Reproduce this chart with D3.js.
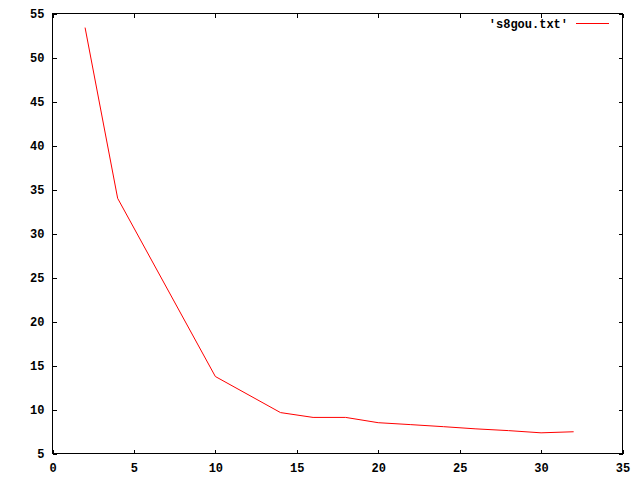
<!DOCTYPE html>
<html><head><meta charset="utf-8">
<script src="https://cdn.jsdelivr.net/npm/d3@7"></script>
<style>
html,body{margin:0;padding:0;background:#fff;}
text{font-family:"Liberation Mono","DejaVu Sans Mono",monospace;font-weight:bold;font-size:12px;fill:#000;}
</style></head>
<body>
<svg id="c" width="640" height="480"></svg>
<script>
const xValues = [2, 4, 10, 14, 16, 18, 20, 22, 24, 26, 28, 30, 32];
const yValues = [53.4, 34.0, 13.75, 9.65, 9.1, 9.1, 8.5, 8.28, 8.05, 7.8, 7.6, 7.35, 7.47];
const xTicks = [0, 5, 10, 15, 20, 25, 30, 35];
const yTicks = [5, 10, 15, 20, 25, 30, 35, 40, 45, 50, 55];
const seriesName = "'s8gou.txt'";

const svg = d3.select("#c");
const L = 52.5, R = 622.5, T = 13.5, B = 453.5;
const x = d3.scaleLinear().domain([0, 35]).range([L, R]);
const y = d3.scaleLinear().domain([5, 55]).range([B, T]);

const g = svg.append("g").attr("shape-rendering", "crispEdges");

function style(sel){
  sel.select(".domain").remove();
  sel.selectAll("line").attr("stroke", "#000");
}
g.append("g").attr("transform", `translate(0,${B})`)
  .call(d3.axisBottom(x).tickValues(xTicks).tickFormat(d3.format("d")).tickSize(-4).tickPadding(9.5))
  .call(style).selectAll("text").attr("font-size", null).attr("font-family", null);
g.append("g").attr("transform", `translate(0,${T})`)
  .call(d3.axisTop(x).tickValues(xTicks).tickFormat("").tickSize(-4)).call(style);
g.append("g").attr("transform", `translate(${L},0)`)
  .call(d3.axisLeft(y).tickValues(yTicks).tickFormat(d3.format("d")).tickSize(-4).tickPadding(8))
  .call(style).selectAll("text").attr("font-size", null).attr("font-family", null);
g.append("g").attr("transform", `translate(${R},0)`)
  .call(d3.axisRight(y).tickValues(yTicks).tickFormat("").tickSize(-4)).call(style);
svg.selectAll("g.tick text").attr("font-size", null).attr("font-family", null);

g.append("rect").attr("x", L).attr("y", T).attr("width", R - L).attr("height", B - T)
  .attr("fill", "none").attr("stroke", "#000");

const data = xValues.map((v, i) => [v, yValues[i]]);
svg.append("path").datum(data)
  .attr("fill", "none").attr("stroke", "#ff0000").attr("stroke-width", 1)
  .attr("d", d3.line().x(d => x(d[0])).y(d => y(d[1])));

// legend
svg.append("text").attr("x", 568).attr("y", 28).attr("text-anchor", "end").text(seriesName);
svg.append("line").attr("x1", 576).attr("x2", 609).attr("y1", 23.5).attr("y2", 23.5)
  .attr("stroke", "#ff0000").attr("shape-rendering", "crispEdges");
</script>
</body></html>
